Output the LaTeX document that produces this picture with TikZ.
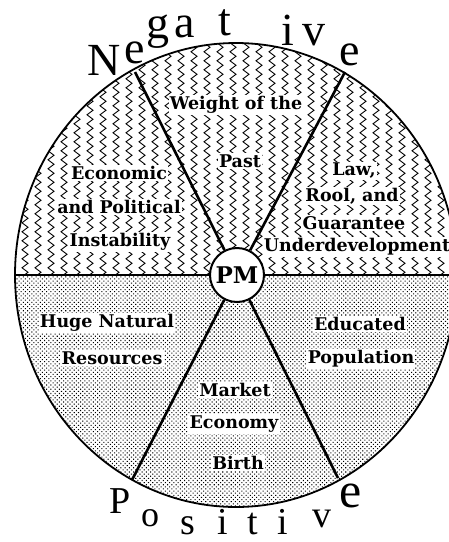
\documentclass[tikz,border=0pt]{standalone}
\usepackage{fontspec}
\newfontfamily\labelfont{DejaVu Serif}
\newfontfamily\titlefont{Liberation Serif}
\usetikzlibrary{decorations.pathmorphing,patterns.meta}
\def\glyph[#1](#2)(#3)#4{\node[ttl, font={\titlefont\fontsize{#1}{#1}\selectfont}] (#2) at (#3) {#4};}
\def\rim{(236,275) ellipse [x radius=221pt, y radius=232pt]}

\tikzset{
	lbl/.style={fill=white, inner sep=1.2pt, font=\labelfont\bfseries\fontsize{17.5}{19}\selectfont},
	ttl/.style={anchor=base, inner sep=0pt},
	zig/.style={line width=0.9pt, decorate, decoration={zigzag, segment length=9pt, amplitude=3pt}},
	spoke/.style={line width=2.6pt},
}

\begin{document}
\begin{tikzpicture}[x=1pt, y=-1pt]
			%%%%% START %%%%%
			\useasboundingbox (0,0) rectangle (449,542);
			
			% upper half: zigzag
			\begin{scope}
				\clip \rim;
				\clip (0,0) rectangle (470,275);
				\foreach \x in {12,25,...,470}
					\draw[zig] (\x,36) -- (\x,282);
			\end{scope}
			
			% lower half: dots
			\begin{scope}
				\clip \rim;
				\fill[pattern={Dots[distance=3pt, radius=0.75pt, angle=45]}] (0,275) rectangle (470,520);
			\end{scope}
			
			\draw[line width=1.8pt] \rim;
			
			\node[circle, draw, line width=2pt, fill=white, minimum size=54pt, inner sep=0pt,
				font=\labelfont\bfseries\fontsize{23}{23}\selectfont] (pm) at (237,275) {PM};
			
			\coordinate (west) at (15,275);
			\coordinate (east) at (460,275);
			\coordinate (nw) at (135,72);
			\coordinate (ne) at (345,72);
			\coordinate (sw) at (132,480);
			\coordinate (se) at (338,478);
			
			\draw[line width=1.8pt] (west) -- (pm) -- (east);
			\draw[spoke] (pm) -- (nw);
			\draw[spoke] (pm) -- (ne);
			\draw[spoke] (pm) -- (sw);
			\draw[spoke] (pm) -- (se);
			
			% labels
			\node[lbl] (weight) at (236,105) {Weight of the};
			\node[lbl] (past) at (240,161) {Past};
			\node[lbl] (econ) at (119,173) {Economic};
			\node[lbl] (polit) at (119,207) {and Political};
			\node[lbl] (instab) at (120,242) {Instability};
			\node[lbl] (law) at (354,171) {Law,};
			\node[lbl] (rool) at (352,196) {Rool, and};
			\node[lbl] (guar) at (354,223) {Guarantee};
			\node[lbl] (under) at (357,247) {Underdevelopment};
			\node[lbl] (huge) at (107,323) {Huge Natural};
			\node[lbl] (resour) at (112,358) {Resources};
			\node[lbl] (educ) at (360,324) {Educated};
			\node[lbl] (popul) at (361,359) {Population};
			\node[lbl] (market) at (235,390) {Market};
			\node[lbl] (economy) at (234,424) {Economy};
			\node[lbl] (birth) at (238,463) {Birth};
			
			% Negative
			\glyph[46](n1)(104,75){N}
			\glyph[46](n2)(135,63){e}
			\glyph[46](n3)(158,38){g}
			\glyph[46](n4)(185,37){a}
			\glyph[46](n5)(225,35){t}
			\glyph[46](n6)(288,45){i}
			\glyph[46](n7)(314,45){v}
			\glyph[46](n8)(350,65){e}
			
			% Positive
			\glyph[38](p1)(120,513){P}
			\glyph[36](p2)(150,526){o}
			\glyph[38](p3)(188,534){s}
			\glyph[38](p4)(223,534){i}
			\glyph[38](p5)(253,534){t}
			\glyph[38](p6)(283,534){i}
			\glyph[38](p7)(322,527){v}
			\glyph[50](p8)(351,507){e}
			
			%%%%% END %%%%%
\end{tikzpicture}
\end{document}
